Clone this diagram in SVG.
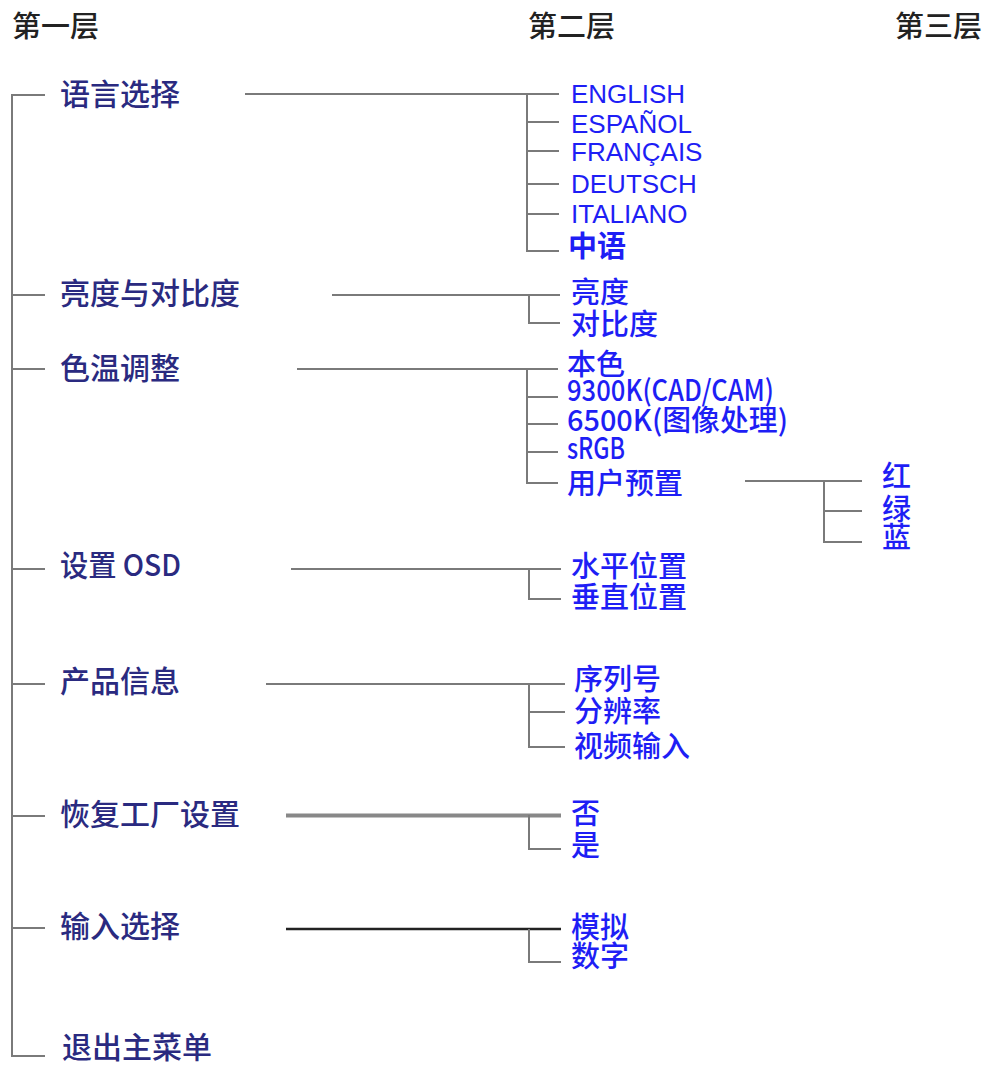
<svg xmlns="http://www.w3.org/2000/svg" width="987" height="1067" viewBox="0 0 987 1067">
<style>
text{font-family:"Noto Sans CJK SC","Liberation Sans",sans-serif;font-size:29px;font-weight:500}
.h{fill:#222}
.l1{fill:#2a2a80;font-size:30px}
.l2{fill:#1e1ef5}
.lat{font-family:"Liberation Sans","Noto Sans CJK SC",sans-serif;font-size:26px;font-weight:normal}
.b{font-weight:bold}
.c{fill:none;stroke:#7a7a7a;stroke-width:2}
.thick{fill:none;stroke:#888;stroke-width:4}
.dark{fill:none;stroke:#222;stroke-width:2.5}
</style>
<rect width="987" height="1067" fill="#fff"/>
<g id="headers">
<text class="h" x="12" y="37">第一层</text>
<text class="h" x="528" y="37">第二层</text>
<text class="h" x="895" y="37">第三层</text>
</g>
<g id="connectors">
<path class="c" d="M45 95H12V1056H45M12 295H45M12 369H45M12 569H45M12 684H45M12 816H45M12 928H45"/>
<path class="c" d="M245 94H559M527 94V251H559M527 122H559M527 151H559M527 184H559M527 214H559"/>
<path class="c" d="M332 295H560M529 295V323H560"/>
<path class="c" d="M297 369H558M527 369V483H558M527 397H558M527 424H558M527 452H558"/>
<path class="c" d="M745 481H862M824 481V542H862M824 511H862"/>
<path class="c" d="M291 569H561M529 569V599H561"/>
<path class="c" d="M266 684H565M529 684V747H565M529 712H565"/>
<path class="thick" d="M286 815.5H561"/>
<path class="c" d="M529 815V849H561"/>
<path class="dark" d="M286 929H561"/>
<path class="c" d="M529 929V962H561"/>
</g>
<g id="n-lang"><text class="l1" x="60" y="105">语言选择</text></g>
<g id="n-bright"><text class="l1" x="60" y="304">亮度与对比度</text></g>
<g id="n-color"><text class="l1" x="60" y="379">色温调整</text></g>
<g id="n-osd"><text class="l1" x="60" y="576" textLength="121" lengthAdjust="spacingAndGlyphs">设置 OSD</text></g>
<g id="n-info"><text class="l1" x="60" y="692">产品信息</text></g>
<g id="n-reset"><text class="l1" x="60" y="825">恢复工厂设置</text></g>
<g id="n-input"><text class="l1" x="60" y="937">输入选择</text></g>
<g id="n-exit"><text class="l1" x="62" y="1058">退出主菜单</text></g>
<g id="n-english"><text class="l2 lat" x="571" y="103">ENGLISH</text></g>
<g id="n-espanol"><text class="l2 lat" x="571" y="133">ESPAÑOL</text></g>
<g id="n-francais"><text class="l2 lat" x="571" y="161">FRANÇAIS</text></g>
<g id="n-deutsch"><text class="l2 lat" x="571" y="193">DEUTSCH</text></g>
<g id="n-italiano"><text class="l2 lat" x="571" y="223">ITALIANO</text></g>
<g id="n-zh"><text class="l2 b" x="568" y="257">中语</text></g>
<g id="n-liangdu"><text class="l2" x="571" y="303">亮度</text></g>
<g id="n-duibidu"><text class="l2" x="571" y="335">对比度</text></g>
<g id="n-bense"><text class="l2" x="567" y="375">本色</text></g>
<g id="n-9300"><text class="l2" x="567" y="401" font-size="25" font-weight="normal" textLength="207" lengthAdjust="spacingAndGlyphs">9300K(CAD/CAM)</text></g>
<g id="n-6500"><text class="l2" x="567" y="431" font-size="26" textLength="221" lengthAdjust="spacingAndGlyphs">6500K(图像处理)</text></g>
<g id="n-srgb"><text class="l2" x="567" y="459" font-size="25" textLength="58" lengthAdjust="spacingAndGlyphs">sRGB</text></g>
<g id="n-user"><text class="l2" x="567" y="494">用户预置</text></g>
<g id="n-red"><text class="l2" x="882" y="487">红</text></g>
<g id="n-green"><text class="l2" x="882" y="520">绿</text></g>
<g id="n-blue"><text class="l2" x="882" y="548">蓝</text></g>
<g id="n-hpos"><text class="l2" x="571" y="577">水平位置</text></g>
<g id="n-vpos"><text class="l2" x="571" y="608">垂直位置</text></g>
<g id="n-serial"><text class="l2" x="574" y="690">序列号</text></g>
<g id="n-res"><text class="l2" x="574" y="722">分辨率</text></g>
<g id="n-video"><text class="l2" x="574" y="757">视频输入</text></g>
<g id="n-no"><text class="l2" x="571" y="824">否</text></g>
<g id="n-yes"><text class="l2" x="571" y="856">是</text></g>
<g id="n-analog"><text class="l2" x="571" y="938">模拟</text></g>
<g id="n-digital"><text class="l2" x="571" y="967">数字</text></g>
</svg>
